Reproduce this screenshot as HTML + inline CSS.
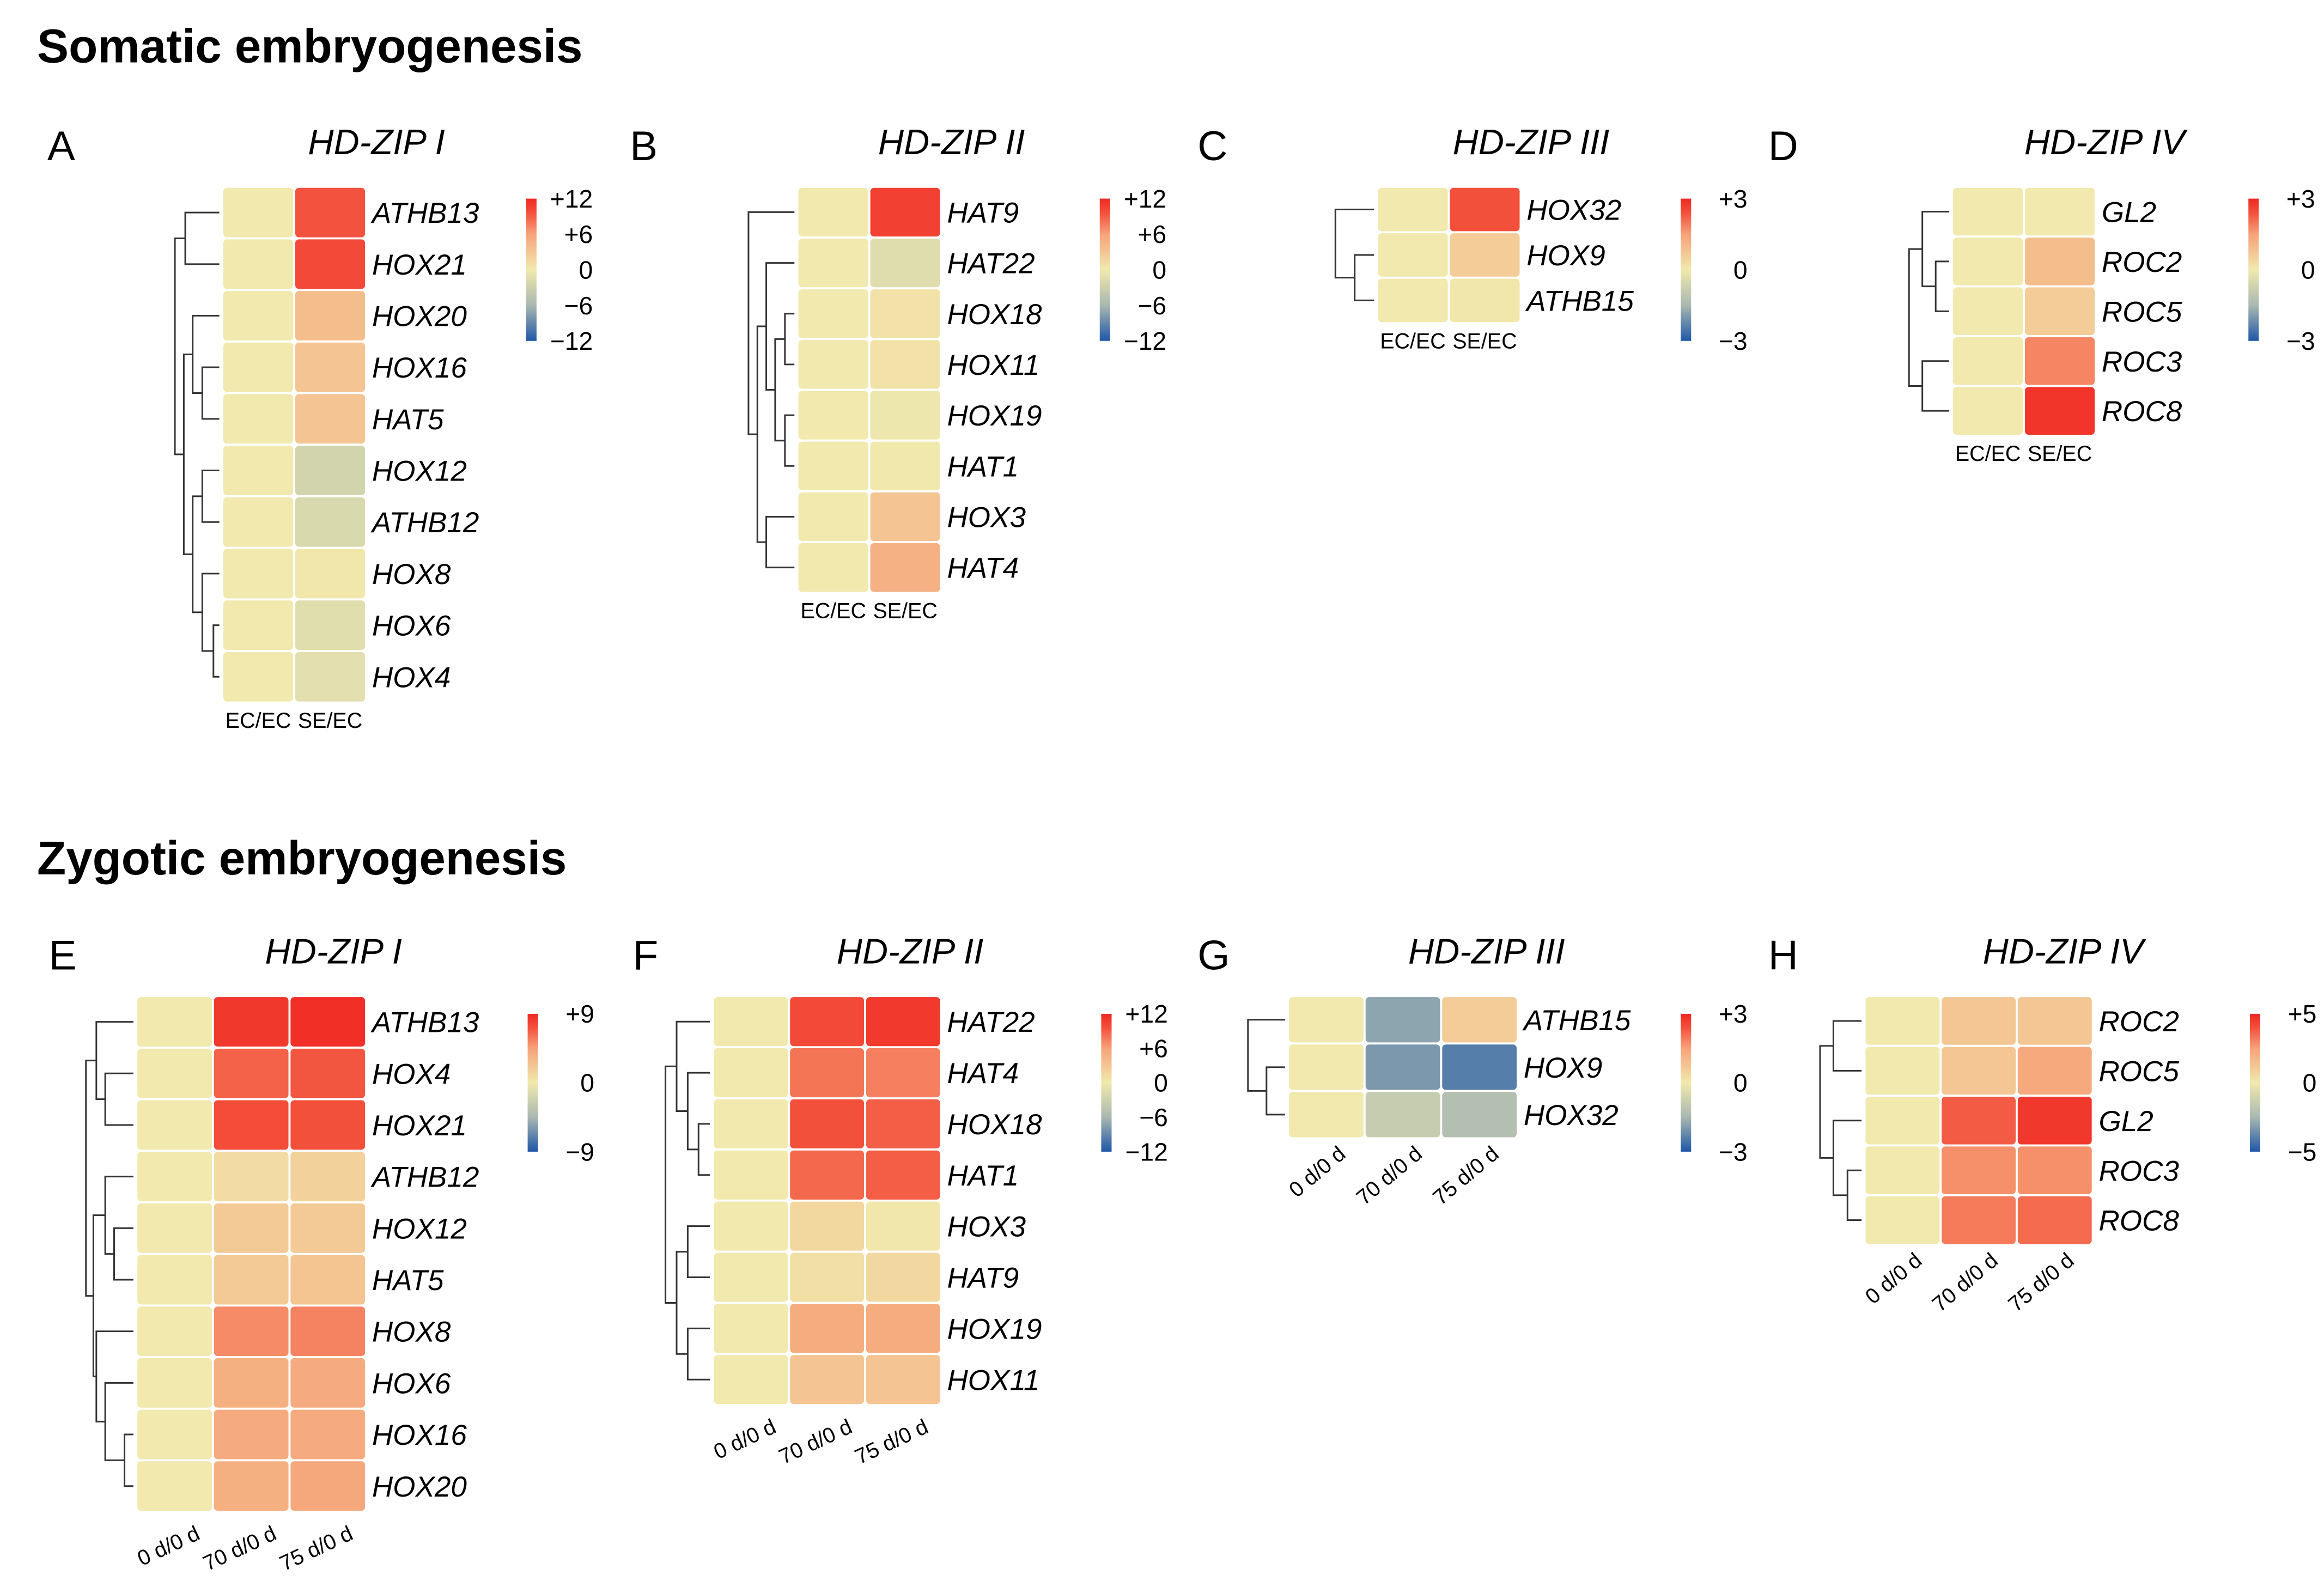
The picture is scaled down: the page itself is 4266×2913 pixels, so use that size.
<!DOCTYPE html>
<html><head><meta charset="utf-8"><style>
html,body{margin:0;padding:0;background:#fff}
svg{display:block}
text{font-family:"Liberation Sans",sans-serif}
</style></head><body>
<svg id="fig" width="4266" height="2913" viewBox="0 0 1568 1070.7" preserveAspectRatio="none" xmlns="http://www.w3.org/2000/svg">
<defs>
<linearGradient id="cbar" x1="0" y1="0" x2="0" y2="1">
<stop offset="0" stop-color="#f02823"/><stop offset="0.1" stop-color="#f3503c"/><stop offset="0.25" stop-color="#f6a27a"/><stop offset="0.5" stop-color="#f1e9ad"/><stop offset="0.75" stop-color="#a9b8b0"/><stop offset="1" stop-color="#1f57a8"/>
</linearGradient>
</defs>
<text x="25" y="42" font-size="32" font-weight="bold">Somatic embryogenesis</text>
<text x="25" y="590" font-size="32" font-weight="bold">Zygotic embryogenesis</text>
</svg>
<script>
// ---- data ----
const colsSomatic = ["EC/EC","SE/EC"];
const colsZygotic = ["0 d/0 d","70 d/0 d","75 d/0 d"];
const genesA = ["ATHB13","HOX21","HOX20","HOX16","HAT5","HOX12","ATHB12","HOX8","HOX6","HOX4"];
const valuesA = [[0,9.5],[0,10],[0,3.6],[0,3.0],[0,3.0],[0,-2.6],[0,-2.0],[0,0.2],[0,-1.3],[0,-1.2]];
const genesB = ["HAT9","HAT22","HOX18","HOX11","HOX19","HAT1","HOX3","HAT4"];
const valuesB = [[0,10.5],[0,-1.5],[0,0.6],[0,0.6],[0,-0.3],[0,0.1],[0,3.0],[0,4.6]];
const genesC = ["HOX32","HOX9","ATHB15"];
const valuesC = [[0,2.4],[0,0.6],[0,0.05]];
const genesD = ["GL2","ROC2","ROC5","ROC3","ROC8"];
const valuesD = [[0,0],[0,0.9],[0,0.6],[0,1.8],[0,2.8]];
const genesE = ["ATHB13","HOX4","HOX21","ATHB12","HOX12","HAT5","HOX8","HOX6","HOX16","HOX20"];
const valuesE = [[0,8.3,8.7],[0,6.6,7.0],[0,7.4,7.2],[0,0.8,1.5],[0,2.0,2.0],[0,2.0,2.3],[0,5.2,5.5],[0,3.5,3.8],[0,3.8,3.8],[0,3.5,4.0]];
const genesF = ["HAT22","HAT4","HOX18","HAT1","HOX3","HAT9","HOX19","HOX11"];
const valuesF = [[0,10,11],[0,8,7.5],[0,9.6,9],[0,8.5,9],[0,1.5,0.2],[0,0.8,1.4],[0,5,5],[0,3,3]];
const genesG = ["ATHB15","HOX9","HOX32"];
const valuesG = [[0,-1.8,0.6],[0,-2.0,-2.4],[0,-0.9,-1.3]];
const genesH = ["ROC2","ROC5","GL2","ROC3","ROC8"];
const valuesH = [[0,1.2,1.2],[0,1.2,2.2],[0,3.8,4.6],[0,2.8,2.8],[0,3.2,3.5]];
const ticks12 = ["+12","+6","0","\u22126","\u221212"];
const ticks3 = ["+3","0","\u22123"];
const ticks9 = ["+9","0","\u22129"];
const ticks5 = ["+5","0","\u22125"];

const NS="http://www.w3.org/2000/svg";
const svg=document.getElementById('fig');
function mk(tag,attrs,parent){const e=document.createElementNS(NS,tag);for(const k in attrs)e.setAttribute(k,attrs[k]);(parent||svg).appendChild(e);return e;}
const stops=[[-1,[31,87,168]],[-0.5,[169,184,176]],[0,[241,233,173]],[0.5,[246,160,118]],[0.8,[243,80,60]],[1,[240,40,35]]];
function color(v,max){let t=Math.max(-1,Math.min(1,v/max));for(let i=0;i<stops.length-1;i++){const a=stops[i],b=stops[i+1];if(t<=b[0]){const f=(t-a[0])/(b[0]-a[0]);const c=a[1].map((x,j)=>Math.round(x+(b[1][j]-x)*f));return `rgb(${c[0]},${c[1]},${c[2]})`;}}return 'rgb(240,40,35)';}

function panel(p){
  const g=mk('g',{});
  
  
  const lt=mk('text',{x:p.lx,y:p.ty+4,'font-size':28},g);lt.textContent=p.id;
  
  
  const tt=mk('text',{x:p.tcx,y:p.ty,'font-size':24,'font-style':'italic','text-anchor':'middle'},g);tt.textContent=p.title;
  
  
  const nC=p.cols.length,nR=p.genes.length;
  const cw=(p.x1-p.x0)/nC, rh=(p.y1-p.y0)/nR;
  const xs=i=>p.x0+i*cw, ys=r=>p.y0+r*rh;
  p.values.forEach((row,r)=>row.forEach((v,c)=>{
    const rc=mk('rect',{x:xs(c)+0.7,y:ys(r)+0.7,width:cw-1.4,height:rh-1.4,rx:2.5,fill:color(v,p.max)},g);
    
    
  }));
  p.genes.forEach((gn,r)=>{
    const t=mk('text',{x:p.x1+4,y:ys(r)+rh/2+7,'font-size':19.5,'font-style':'italic'},g);t.textContent=gn;
    
    
  });
  p.cols.forEach((cn,c)=>{
    let t;
    if(p.rot){
      const ax=xs(c)+cw/2+p.rdx, ay=p.y1+p.rdy;
      t=mk('text',{x:ax,y:ay,'font-size':14.5,'text-anchor':'end',transform:`rotate(${p.rot} ${ax} ${ay})`},g);
    } else {
      t=mk('text',{x:xs(c)+cw/2,y:p.y1+17,'font-size':14.5,'text-anchor':'middle'},g);
    }
    t.textContent=cn;
    
    
  });
  const cb=mk('rect',{x:p.cbx,y:p.cby0,width:7,height:p.cby1-p.cby0,fill:'url(#cbar)'},g);
  
  
  p.ticks.forEach((tk,i)=>{
    const y=p.cby0+(p.cby1-p.cby0)*i/(p.ticks.length-1)+6;
    const t=mk('text',{x:p.cbx+45,y:y,'font-size':17,'text-anchor':'end'},g);t.textContent=tk;
    
    
  });
  const leafX=p.x0-2;
  function draw(n){
    if(typeof n==='number') return {y:ys(n)+rh/2,x:leafX};
    const a=draw(n[0]),b=draw(n[1]),hx=leafX-n[2];
    const pth=mk('path',{d:`M${a.x},${a.y}H${hx}V${b.y}H${b.x}`,fill:'none',stroke:'#333','stroke-width':1.1},g);
    
    
    return {y:(a.y+b.y)/2,x:hx};
  }
  draw(p.tree);
}

const topCb={cby0:134,cby1:230}, botCb={cby0:684,cby1:777};
panel({id:'A',title:'HD-ZIP I',lx:32,tcx:254,ty:104,x0:150,x1:247,y0:126,y1:474,cols:colsSomatic,genes:genesA,values:valuesA,max:12,cbx:355,...topCb,ticks:ticks12,
  tree:[[0,1,23],[[2,[3,4,11.5],18],[[5,6,11.5],[7,[8,9,4],11.5],18],24],30]});
panel({id:'B',title:'HD-ZIP II',lx:425,tcx:642,ty:104,x0:538,x1:635,y0:126,y1:400,cols:colsSomatic,genes:genesB,values:valuesB,max:12,cbx:742,...topCb,ticks:ticks12,
  tree:[0,[[1,[[2,3,6.4],[4,5,6.4],13],19],[6,7,19],25],31]});
panel({id:'C',title:'HD-ZIP III',lx:808,tcx:1033,ty:104,x0:929,x1:1026,y0:126,y1:218,cols:colsSomatic,genes:genesC,values:valuesC,max:3,cbx:1134,...topCb,ticks:ticks3,
  tree:[0,[1,2,13],26]});
panel({id:'D',title:'HD-ZIP IV',lx:1193,tcx:1420,ty:104,x0:1317,x1:1414,y0:126,y1:294,cols:colsSomatic,genes:genesD,values:valuesD,max:3,cbx:1517,...topCb,ticks:ticks3,
  tree:[[0,[1,2,9],18],[3,4,18],27]});
panel({id:'E',title:'HD-ZIP I',lx:33,tcx:225,ty:650,x0:92,x1:247,y0:672,y1:1020,cols:colsZygotic,genes:genesE,values:valuesE,max:9,cbx:356,...botCb,ticks:ticks9,rot:-25,rdx:18,rdy:18,
  tree:[[0,[1,2,19],25],[[3,[4,5,13],19],[6,[7,[8,9,6],19],25],27],32]});
panel({id:'F',title:'HD-ZIP II',lx:427,tcx:614,ty:650,x0:481,x1:635,y0:672,y1:948,cols:colsZygotic,genes:genesF,values:valuesF,max:12,cbx:743,...botCb,ticks:ticks12,rot:-25,rdx:18,rdy:18,
  tree:[[0,[1,[2,3,7.7],15],22.5],[[4,5,15],[6,7,15],22.5],30]});
panel({id:'G',title:'HD-ZIP III',lx:808,tcx:1003,ty:650,x0:869,x1:1024,y0:672,y1:768,cols:colsZygotic,genes:genesG,values:valuesG,max:3,cbx:1134,...botCb,ticks:ticks3,rot:-40,rdx:14,rdy:12,
  tree:[0,[1,2,12.5],25]});
panel({id:'H',title:'HD-ZIP IV',lx:1193,tcx:1392,ty:650,x0:1258,x1:1412,y0:672,y1:840,cols:colsZygotic,genes:genesH,values:valuesH,max:5,cbx:1518,...botCb,ticks:ticks5,rot:-40,rdx:14,rdy:12,
  tree:[[0,1,19],[2,[3,4,9.5],19],28]});
</script>
</body></html>
